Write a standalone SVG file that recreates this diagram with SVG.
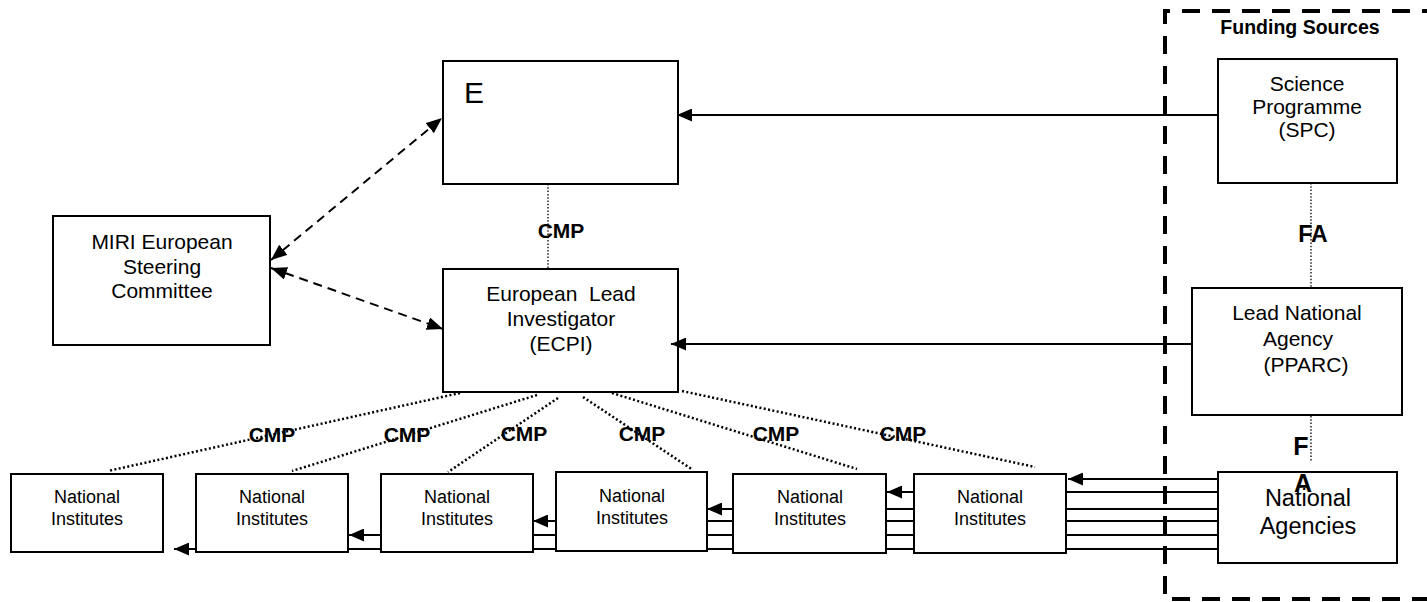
<svg xmlns="http://www.w3.org/2000/svg" width="1427" height="602" viewBox="0 0 1427 602">
<style>
  .box { fill: #fff; stroke: #000; stroke-width: 2; }
  .t { font-family: "Liberation Sans", Arial, sans-serif; fill: #000; text-anchor: middle; }
  .b { font-weight: bold; }
  .solid { fill: none; stroke: #000; stroke-width: 2; }
  .dash { fill: none; stroke: #000; stroke-width: 2; stroke-dasharray: 9 6; }
  .dot { fill: none; stroke: #000; stroke-width: 2.5; stroke-dasharray: 2 2.4; }
  .fdot { fill: none; stroke: #000; stroke-width: 1.3; stroke-dasharray: 1.5 1.8; }
  .frame { fill: none; stroke: #000; stroke-width: 4; stroke-dasharray: 18 12; }
</style>
<defs>
  <marker id="ah" markerWidth="15" markerHeight="13" refX="15" refY="6.5" orient="auto" markerUnits="userSpaceOnUse">
    <path d="M0,0 L15,6.5 L0,13 Z" fill="#000"/>
  </marker>
  <marker id="dh" markerWidth="16" markerHeight="13" refX="16" refY="6.5" orient="auto-start-reverse" markerUnits="userSpaceOnUse">
    <path d="M0,0 L16,6.5 L0,13 Z" fill="#000"/>
  </marker>
</defs>
<rect width="1427" height="602" fill="#fff"/>

<g id="funding-sources">
  <path class="frame" d="M1440,11 H1165 V599 H1440"/>
  <text class="t b" x="1300" y="34" font-size="19.5">Funding Sources</text>
</g>

<g id="node-e">
  <rect class="box" x="443" y="61" width="235" height="123"/>
  <text class="t" x="464" y="103" font-size="30" text-anchor="start" style="text-anchor:start">E</text>
</g>

<g id="node-miri">
  <rect class="box" x="53" y="216" width="217" height="129"/>
  <text class="t" font-size="21"><tspan x="162" y="249">MIRI European</tspan><tspan x="162" y="274">Steering</tspan><tspan x="162" y="298">Committee</tspan></text>
</g>

<g id="node-ecpi">
  <rect class="box" x="443" y="269" width="235" height="123"/>
  <text class="t" font-size="21" xml:space="preserve"><tspan x="561" y="301">European  Lead</tspan><tspan x="561" y="326">Investigator</tspan><tspan x="561" y="351">(ECPI)</tspan></text>
</g>

<g id="node-spc">
  <rect class="box" x="1218" y="59" width="179" height="124"/>
  <text class="t" font-size="21"><tspan x="1307" y="91">Science</tspan><tspan x="1307" y="114">Programme</tspan><tspan x="1307" y="137">(SPC)</tspan></text>
</g>

<g id="node-lna">
  <rect class="box" x="1192" y="288" width="210" height="127"/>
  <text class="t" font-size="21"><tspan x="1297" y="320">Lead National</tspan><tspan x="1298" y="346">Agency</tspan><tspan x="1306" y="372">(PPARC)</tspan></text>
</g>

<g id="node-agencies">
  <rect class="box" x="1218" y="472" width="179" height="91"/>
  <text class="t" font-size="23.5"><tspan x="1308" y="506">National</tspan><tspan x="1308" y="534">Agencies</tspan></text>
</g>

<g id="node-ni1">
  <rect class="box" x="11" y="474" width="152" height="78"/>
  <text class="t" font-size="18"><tspan x="87" y="503">National</tspan><tspan x="87" y="525">Institutes</tspan></text>
</g>
<g id="node-ni2">
  <rect class="box" x="196" y="474" width="152" height="78"/>
  <text class="t" font-size="18"><tspan x="272" y="503">National</tspan><tspan x="272" y="525">Institutes</tspan></text>
</g>
<g id="node-ni3">
  <rect class="box" x="381" y="474" width="152" height="78"/>
  <text class="t" font-size="18"><tspan x="457" y="503">National</tspan><tspan x="457" y="525">Institutes</tspan></text>
</g>
<g id="node-ni4">
  <rect class="box" x="556" y="472" width="151" height="79"/>
  <text class="t" font-size="18"><tspan x="632" y="502">National</tspan><tspan x="632" y="524">Institutes</tspan></text>
</g>
<g id="node-ni5">
  <rect class="box" x="733" y="474" width="153" height="79"/>
  <text class="t" font-size="18"><tspan x="810" y="503">National</tspan><tspan x="810" y="525">Institutes</tspan></text>
</g>
<g id="node-ni6">
  <rect class="box" x="914" y="474" width="152" height="79"/>
  <text class="t" font-size="18"><tspan x="990" y="503">National</tspan><tspan x="990" y="525">Institutes</tspan></text>
</g>

<g id="connectors">
  <!-- funding arrows -->
  <path class="solid" d="M1218,115 H677" marker-end="url(#ah)"/>
  <path class="solid" d="M1192,344 H671" marker-end="url(#ah)"/>
  <!-- steering committee links -->
  <path class="dash" d="M271,260 L442,118" marker-start="url(#dh)" marker-end="url(#dh)"/>
  <path class="dash" d="M271,268 L443,329" marker-start="url(#dh)" marker-end="url(#dh)"/>
  <!-- CMP links -->
  <path class="fdot" d="M548,184 V269"/>
  <path class="dot" d="M460,393 L108,471"/>
  <path class="dot" d="M537,395 L292,471"/>
  <path class="dot" d="M558,398 L448,472"/>
  <path class="dot" d="M583,397 L693,470"/>
  <path class="dot" d="M612,393 L857,469"/>
  <path class="dot" d="M682,391 L1035,467"/>
  <!-- FA links -->
  <path class="fdot" d="M1311,183 V288"/>
  <path class="fdot" d="M1311,416 V461"/>
  <!-- national agencies funding lines -->
  <path class="solid" d="M1218,479 H1068" marker-end="url(#ah)"/>
  <path class="solid" d="M1218,492 H1066 M914,492 H887" marker-end="url(#ah)"/>
  <path class="solid" d="M1218,509 H1066 M914,509 H886 M733,509 H707" marker-end="url(#ah)"/>
  <path class="solid" d="M1218,521 H1066 M914,521 H886 M733,521 H707 M556,521 H533" marker-end="url(#ah)"/>
  <path class="solid" d="M1218,535 H1066 M914,535 H886 M733,535 H707 M556,535 H533 M381,535 H349" marker-end="url(#ah)"/>
  <path class="solid" d="M1218,549 H1066 M914,549 H886 M733,549 H707 M556,549 H533 M381,549 H348 M196,549 H174" marker-end="url(#ah)"/>
</g>

<g id="labels">
  <text class="t b" x="561" y="238" font-size="21">CMP</text>
  <text class="t b" x="272" y="442" font-size="21">CMP</text>
  <text class="t b" x="407" y="442" font-size="21">CMP</text>
  <text class="t b" x="524" y="441" font-size="21">CMP</text>
  <text class="t b" x="642" y="441" font-size="21">CMP</text>
  <text class="t b" x="776" y="441" font-size="21">CMP</text>
  <text class="t b" x="903" y="441" font-size="21">CMP</text>
  <text class="t b" x="1313" y="242" font-size="23">FA</text>
  <text class="t b" x="1301" y="455" font-size="25">F</text>
  <text class="t b" x="1303" y="492" font-size="25">A</text>
</g>
</svg>
